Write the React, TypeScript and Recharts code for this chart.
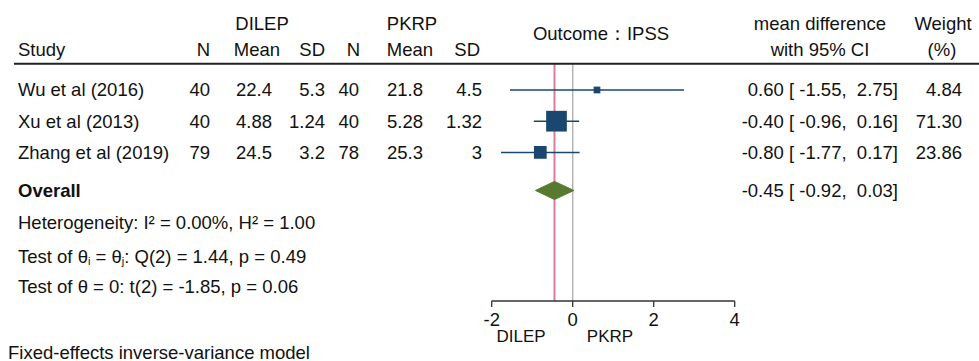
import React from 'react'
import { ComposedChart, XAxis, YAxis, Scatter, ReferenceLine } from 'recharts'

// study table
const studies = ['Wu et al (2016)', 'Xu et al (2013)', 'Zhang et al (2019)']
const n1 = [40, 40, 79]
const mean1 = ['22.4', '4.88', '24.5']
const sd1 = ['5.3', '1.24', '3.2']
const n2 = [40, 40, 78]
const mean2 = ['21.8', '5.28', '25.3']
const sd2 = ['4.5', '1.32', '3']

// effect sizes
const md = [0.6, -0.4, -0.8]
const lo = [-1.55, -0.96, -1.77]
const hi = [2.75, 0.16, 0.17]
const weight = [4.84, 71.3, 23.86]
const overall = { md: -0.45, lo: -0.92, hi: 0.03 }

const xTicks = [-2, 0, 2, 4]

// row positions (row units, top to bottom)
const rowPos = [0, 1, 2]
const overallPos = 3.22
const statPos = [4.26, 5.32, 6.31]
const Y_MIN = -0.833
const Y_MAX = 6.763

const NAVY = '#1a476f'
const GREEN = '#587a2f'
const PINK = '#df7a9b'
const GRAY = '#b4b4b4'
const FONT = '"Liberation Sans", Arial, Helvetica, sans-serif'
const FS = 18.5

function f2(v: number) { return v.toFixed(2) }
function pad(v: number) { return f2(v).padStart(5, ' ') }
function ciText(m: number, l: number, h: number) { return `${f2(m)} [ ${pad(l)}, ${pad(h)}]` }

const T = (p: any) => (
  <text x={p.x} y={p.y} textAnchor={p.anchor || 'end'} dominantBaseline="central"
    fontSize={p.fs || FS} fontWeight={p.bold ? 700 : 400} fill="#111" fontFamily={FONT}
    style={{ whiteSpace: 'pre' }}>{p.children}</text>
)

const squareData = studies.map((s, i) => ({ x: md[i], y: rowPos[i], w: weight[i] }))
const rowData = studies.map((s, i) => ({ x: md[i], y: rowPos[i], i }))
const h = 0.29
const diamondData = [
  { x: overall.lo, y: overallPos },
  { x: overall.md, y: overallPos - h },
  { x: overall.hi, y: overallPos },
  { x: overall.md, y: overallPos + h },
  { x: overall.lo, y: overallPos },
]
const overallRow = [{ x: overall.md, y: overallPos }]
const statData = statPos.map((y, k) => ({ x: 0, y, k }))

const none = () => <g />

function RowText(p: any) {
  const i = p.payload.i
  const y = p.cy
  return (
    <g>
      <T x={18} y={y} anchor="start">{studies[i]}</T>
      <T x={210} y={y}>{String(n1[i])}</T>
      <T x={272} y={y}>{mean1[i]}</T>
      <T x={325} y={y}>{sd1[i]}</T>
      <T x={359} y={y}>{String(n2[i])}</T>
      <T x={423} y={y}>{mean2[i]}</T>
      <T x={482} y={y}>{sd2[i]}</T>
      <T x={898} y={y}>{ciText(md[i], lo[i], hi[i])}</T>
      <T x={962} y={y}>{f2(weight[i])}</T>
    </g>
  )
}

function OverallText(p: any) {
  return (
    <g>
      <T x={18} y={p.cy} anchor="start" bold>Overall</T>
      <T x={898} y={p.cy}>{ciText(overall.md, overall.lo, overall.hi)}</T>
    </g>
  )
}

function StatText(p: any) {
  const k = p.payload.k
  const y = p.cy
  let content: any
  if (k === 0) content = 'Heterogeneity: I² = 0.00%, H² = 1.00'
  else if (k === 1) content = (
    <>
      <tspan>Test of θ</tspan>
      <tspan fontSize={11} dy={5}>i</tspan>
      <tspan dy={-5}> = θ</tspan>
      <tspan fontSize={11} dy={5}>j</tspan>
      <tspan dy={-5}>: Q(2) = 1.44, p = 0.49</tspan>
    </>
  )
  else content = 'Test of θ = 0: t(2) = -1.85, p = 0.06'
  return <T x={18} y={y} anchor="start">{content}</T>
}

function Square(p: any) {
  const s = 2.24 * Math.sqrt(p.payload.w)
  return <rect x={p.cx - s / 2} y={p.cy - s / 2} width={s} height={s} fill={NAVY} stroke={NAVY} strokeWidth={1.8} />
}

export default function App() {
  return (
    <div style={{ position: 'absolute', left: 0, top: 0, width: 979, height: 361, background: '#fff' }}>
      <ComposedChart width={979} height={361} margin={{ top: 64, right: 244.3, bottom: 30, left: 491.7 }}>
        <XAxis type="number" dataKey="x" domain={[-2, 4]} ticks={xTicks} interval={0} height={30}
          tickSize={6} tickMargin={6} stroke="#333" strokeWidth={1.3}
          tick={{ fontSize: FS, fill: '#111', fontFamily: FONT }} />
        <YAxis type="number" dataKey="y" domain={[Y_MIN, Y_MAX]} reversed hide />
        <ReferenceLine x={0} stroke={GRAY} strokeWidth={1.5} />
        <ReferenceLine x={overall.md} stroke={PINK} strokeWidth={2} />
        {studies.map((s, i) => (
          <ReferenceLine key={s} segment={[{ x: lo[i], y: rowPos[i] }, { x: hi[i], y: rowPos[i] }]}
            stroke={NAVY} strokeWidth={1.5} />
        ))}
        <Scatter data={squareData} shape={Square} isAnimationActive={false} />
        <Scatter data={diamondData} shape={none} line={{ fill: GREEN, stroke: GREEN, strokeWidth: 1 }}
          lineType="joint" isAnimationActive={false} />
        <Scatter data={rowData} shape={RowText} isAnimationActive={false} />
        <Scatter data={overallRow} shape={OverallText} isAnimationActive={false} />
        <Scatter data={statData} shape={StatText} isAnimationActive={false} />
      </ComposedChart>
      <svg width={979} height={361} style={{ position: 'absolute', left: 0, top: 0, pointerEvents: 'none' }}>
        <T x={262} y={23} anchor="middle">DILEP</T>
        <T x={412} y={23} anchor="middle">PKRP</T>
        <T x={18} y={49} anchor="start">Study</T>
        <T x={210} y={49}>N</T>
        <T x={280} y={49}>Mean</T>
        <T x={325} y={49}>SD</T>
        <T x={360} y={49}>N</T>
        <T x={433} y={49}>Mean</T>
        <T x={480} y={49}>SD</T>
        <T x={601} y={33} anchor="middle">Outcome：IPSS</T>
        <T x={820} y={23} anchor="middle">mean difference</T>
        <T x={820} y={49} anchor="middle">with 95% CI</T>
        <T x={943} y={23} anchor="middle">Weight</T>
        <T x={942} y={49} anchor="middle">(%)</T>
        <line x1={14} x2={979} y1={63.7} y2={63.7} stroke="#222" strokeWidth={2} />
        <T x={521} y={336} anchor="middle" fs={17}>DILEP</T>
        <T x={610} y={336} anchor="middle" fs={17}>PKRP</T>
        <T x={8} y={352} anchor="start">Fixed-effects inverse-variance model</T>
      </svg>
    </div>
  )
}
